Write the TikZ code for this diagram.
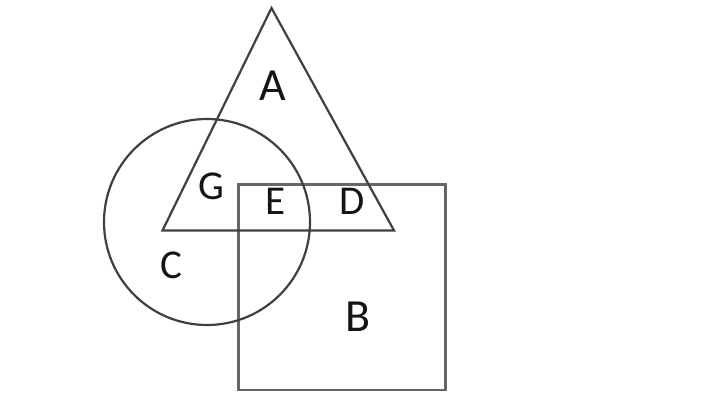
\documentclass[tikz,border=0pt]{standalone}
\usepackage{fontspec}
\setmainfont{Carlito}
\begin{document}
\begin{tikzpicture}[x=1pt,y=-1pt,
  shapeline/.style={draw=black!75, line width=2.2pt},
  boxline/.style={draw=black!60, line width=2.6pt},
  biglabel/.style={anchor=base, inner sep=0pt, font=\fontsize{46}{46}\selectfont, text=black!92},
  smalllabel/.style={anchor=base, inner sep=0pt, font=\fontsize{41}{41}\selectfont, text=black!92}]
\useasboundingbox (0,0) rectangle (704,402);
\fill[white] (0,0) rectangle (704,402);
% square B
\draw[boxline] (238.5,184.5) rectangle (445.5,390);
% circle C
\draw[shapeline] (207,222) circle[radius=103];
% triangle A
\draw[shapeline, line join=miter] (271.5,8) -- (394,230.5) -- (162.5,230.5) -- cycle;
% labels
\node[biglabel] (A) at (273,100) {A};
\node[biglabel] (B) at (358,331.5) {B};
\node[smalllabel] (C) at (171,278.5) {C};
\node[smalllabel] (D) at (352.5,214) {D};
\node[smalllabel] (E) at (276,214) {E};
\node[smalllabel] (G) at (211,199) {G};
\end{tikzpicture}
\end{document}
